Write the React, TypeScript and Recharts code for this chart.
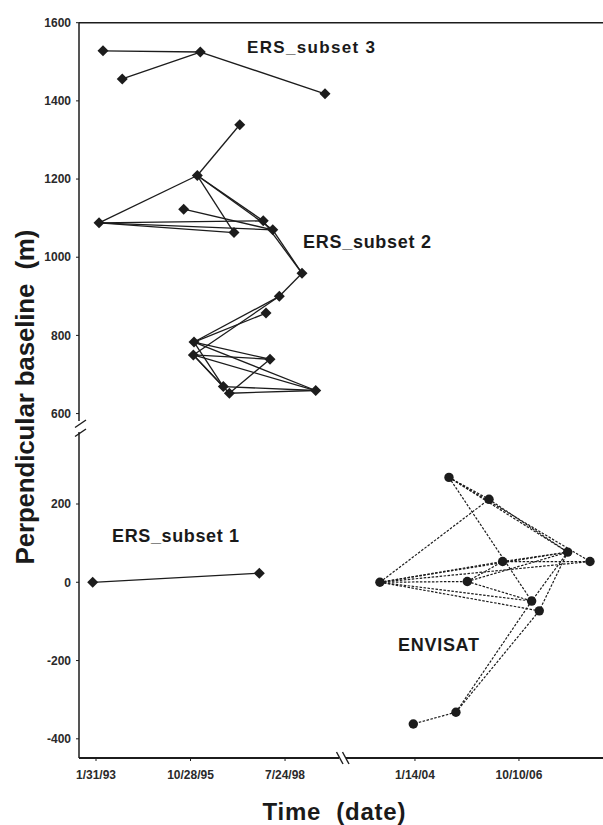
import React from "react";
import { ScatterChart, Scatter, XAxis, YAxis, ReferenceLine } from "recharts";

// ERS subset 3 acquisitions
const ers3Dates = ["1993-04-15", "1993-11-05", "1996-02-09", "1999-09-20"];
const ers3Baselines = [1528, 1456, 1525, 1418];
const ers3Pairs = [[0, 2], [1, 2], [2, 3]];

// ERS subset 2 acquisitions
const ers2Dates = [
  "1997-04-01", "1996-01-08", "1993-03-04", "1995-08-17", "1997-01-30", "1997-12-06",
  "1998-03-16", "1999-01-20", "1998-05-25", "1998-01-04", "1995-12-04", "1995-11-27",
  "1998-02-15", "1996-10-09", "1996-12-12", "1999-06-14",
];
const ers2Baselines = [1339, 1209, 1088, 1123, 1063, 1093, 1070, 959, 900, 857, 783, 750, 739, 669, 652, 659];
const ers2Pairs = [
  [1, 0], [2, 1], [1, 4], [1, 5], [1, 6], [2, 5], [2, 6], [2, 4], [3, 6], [5, 7], [6, 7],
  [7, 8], [8, 10], [9, 10], [8, 11], [10, 12], [11, 12], [10, 15], [11, 15], [10, 13],
  [11, 13], [11, 14], [13, 15], [14, 15], [14, 12],
];

// ERS subset 1 acquisitions
const ers1Dates = ["1992-12-27", "1997-10-25"];
const ers1Baselines = [0, 23];
const ers1Pairs = [[0, 1]];

// ENVISAT acquisitions
const envDates = [
  "2003-02-11", "2004-12-06", "2005-12-26", "2006-05-06", "2005-05-31", "2008-01-21",
  "2008-08-23", "2007-02-09", "2007-04-23", "2005-02-11", "2003-12-29",
];
const envBaselines = [0, 268, 212, 53, 2, 77, 53, -48, -73, -332, -362];
const envPairs = [
  [0, 2], [0, 3], [0, 5], [0, 6], [0, 4], [0, 7], [0, 8], [1, 2], [1, 5], [1, 6], [1, 7],
  [2, 5], [3, 5], [3, 6], [4, 3], [4, 5], [4, 7], [5, 7], [5, 8], [9, 7], [9, 8], [9, 10],
];

const leftTicks = ["1993-01-31", "1995-10-28", "1998-07-24"];
const rightTicks = ["2004-01-14", "2006-10-10"];
const topYTicks = [600, 800, 1000, 1200, 1400, 1600];
const bottomYTicks = [-400, -200, 0, 200];

const DAY_MS = 86400000;
const toDay = (s: string) =>
  Date.UTC(+s.slice(0, 4), +s.slice(5, 7) - 1, +s.slice(8, 10)) / DAY_MS;
const fmtDate = (d: number) => {
  const dt = new Date(d * DAY_MS);
  return `${dt.getUTCMonth() + 1}/${dt.getUTCDate()}/${String(dt.getUTCFullYear()).slice(2)}`;
};
const pts = (dates: string[], values: number[]) =>
  dates.map((d, i) => ({ x: toDay(d), y: values[i] }));

const W = 603;
const H = 825;
const ink = "#1c1c1c";
const font = "'Liberation Sans', Arial, Helvetica, sans-serif";
const tickStyle = { fontSize: 12, fontWeight: 700, fill: "#2a2a2a", fontFamily: font };
const layer: React.CSSProperties = { position: "absolute", left: 0, top: 0 };

const Diamond = (props: any) => {
  const { cx, cy } = props;
  const r = 5.5;
  return <path d={`M${cx},${cy - r}L${cx + r},${cy}L${cx},${cy + r}L${cx - r},${cy}Z`} fill={ink} />;
};
const Dot = (props: any) => <circle cx={props.cx} cy={props.cy} r={4.7} fill={ink} />;
const Empty = () => <g />;

function pairLines(key: string, p: { x: number; y: number }[], pairs: number[][], dashed: boolean) {
  return pairs.map(([a, b], i) => (
    <Scatter
      key={`${key}-${i}`}
      data={[p[a], p[b]]}
      line={{ stroke: ink, strokeWidth: dashed ? 1.2 : 1.3, strokeDasharray: dashed ? "2.5 1.5" : undefined }}
      shape={Empty}
      legendType="none"
      isAnimationActive={false}
    />
  ));
}

export default function App() {
  const ers3 = pts(ers3Dates, ers3Baselines);
  const ers2 = pts(ers2Dates, ers2Baselines);
  const ers1 = pts(ers1Dates, ers1Baselines);
  const env = pts(envDates, envBaselines);

  const axisLine = { stroke: ink, strokeWidth: 1.5 };
  const xAxisLine = { stroke: ink, strokeWidth: 2 };

  return (
    <div style={{ position: "absolute", left: 0, top: 0, width: W, height: H, background: "#fff" }}>
      {/* upper panel: ERS subsets 2 and 3 */}
      <div style={layer}>
        <ScatterChart width={W} height={H} margin={{ top: 22.7, right: 0, bottom: 404, left: 0 }}>
          <XAxis type="number" dataKey="x" domain={[toDay("1992-08-04"), toDay("2007-10-10")]} hide allowDataOverflow />
          <YAxis
            type="number" dataKey="y" domain={[581, 1600]} ticks={topYTicks} interval={0} width={79}
            allowDataOverflow axisLine={axisLine} tickLine={{ stroke: ink }} tickSize={3} tickMargin={5} tick={tickStyle}
          />
          <ReferenceLine y={1600} stroke={ink} strokeWidth={1.5} />
          {pairLines("e3", ers3, ers3Pairs, false)}
          {pairLines("e2", ers2, ers2Pairs, false)}
          <Scatter data={ers3} shape={Diamond} legendType="none" isAnimationActive={false} />
          <Scatter data={ers2} shape={Diamond} legendType="none" isAnimationActive={false} />
        </ScatterChart>
      </div>

      {/* lower left panel: ERS subset 1 */}
      <div style={layer}>
        <ScatterChart width={W} height={H} margin={{ top: 432, right: 264, bottom: 0, left: 0 }}>
          <XAxis
            type="number" dataKey="x" domain={[toDay("1992-08-04"), toDay("2000-02-15")]} allowDataOverflow
            ticks={leftTicks.map(toDay)} interval={0} tickFormatter={fmtDate} height={67}
            axisLine={xAxisLine} tickLine={{ stroke: ink }} tickSize={3} tickMargin={9} tick={tickStyle}
          />
          <YAxis
            type="number" dataKey="y" domain={[-449, 384]} ticks={bottomYTicks} interval={0} width={79}
            allowDataOverflow axisLine={axisLine} tickLine={{ stroke: ink }} tickSize={3} tickMargin={5} tick={tickStyle}
          />
          {pairLines("e1", ers1, ers1Pairs, false)}
          <Scatter data={ers1} shape={Diamond} legendType="none" isAnimationActive={false} />
        </ScatterChart>
      </div>

      {/* lower right panel: ENVISAT */}
      <div style={layer}>
        <ScatterChart width={W} height={H} margin={{ top: 432, right: 0, bottom: 0, left: 346 }}>
          <XAxis
            type="number" dataKey="x" domain={[toDay("2002-03-22"), toDay("2008-12-26")]} allowDataOverflow
            ticks={rightTicks.map(toDay)} interval={0} tickFormatter={fmtDate} height={67}
            axisLine={xAxisLine} tickLine={{ stroke: ink }} tickSize={3} tickMargin={9} tick={tickStyle}
          />
          <YAxis type="number" dataKey="y" domain={[-449, 384]} hide allowDataOverflow />
          {pairLines("env", env, envPairs, true)}
          <Scatter data={env} shape={Dot} legendType="none" isAnimationActive={false} />
        </ScatterChart>
      </div>

      {/* titles, annotations and axis breaks */}
      <svg width={W} height={H} style={{ ...layer, pointerEvents: "none" }}>
        <g fontFamily={font} fontWeight={700} fill="#1a1a1a">
          <text x={247} y={53} fontSize={17} textLength={128}>ERS_subset 3</text>
          <text x={303} y={248} fontSize={18} textLength={128}>ERS_subset 2</text>
          <text x={112} y={542} fontSize={18} textLength={127}>ERS_subset 1</text>
          <text x={398} y={650.5} fontSize={18} textLength={81}>ENVISAT</text>
          <text x={334} y={820} fontSize={24} textAnchor="middle" textLength={143} style={{ whiteSpace: "pre" }}>
            {"Time  (date)"}
          </text>
          <text
            x={0} y={0} fontSize={26} textAnchor="middle" textLength={335} style={{ whiteSpace: "pre" }}
            transform="translate(34,397) rotate(-90)"
          >
            {"Perpendicular baseline  (m)"}
          </text>
        </g>
        <g stroke={ink} strokeWidth={1.4}>
          <line x1={75} y1={427.5} x2={86} y2={420} />
          <line x1={75} y1={436.5} x2={86} y2={429} />
          <line x1={336.5} y1={752} x2={343} y2={764} />
          <line x1={342.5} y1={752} x2={349} y2={764} />
        </g>
      </svg>
    </div>
  );
}
